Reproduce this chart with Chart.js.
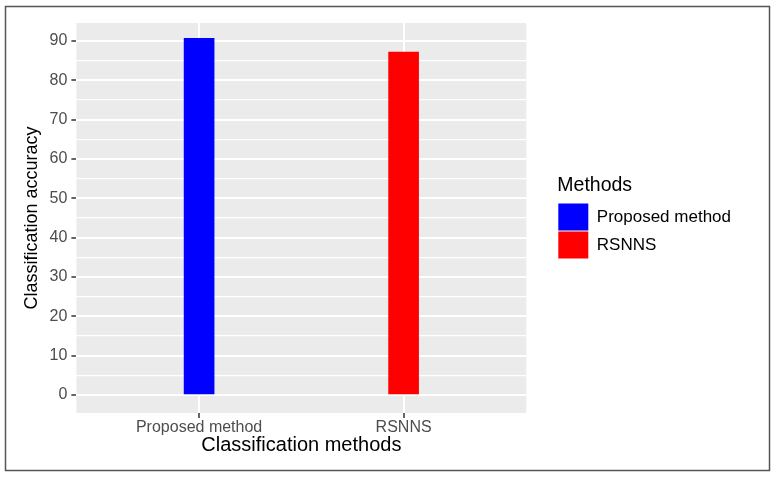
<!DOCTYPE html>
<html>
<head>
<meta charset="utf-8">
<script src="https://cdn.jsdelivr.net/npm/chart.js@4"></script>
<style>
  body { margin: 0; background: #fff; }
  #wrap { width: 776px; height: 477px; }
</style>
</head>
<body>
<div id="wrap"><canvas id="accChart" width="776" height="477"></canvas></div>
<script>
var categories = ['Proposed method', 'RSNNS'];
var accuracy = [90.7, 87.2];
var barColors = ['#0000FF', '#FF0000'];
var yTicks = [0, 5, 10, 15, 20, 25, 30, 35, 40, 45, 50, 55, 60, 65, 70, 75, 80, 85, 90];

var ctx1 = document.getElementById('accChart').getContext('2d');

// grey panel like ggplot, plus the outer frame
var panelBg = {
    id: 'panelBg',
    beforeDraw: function(chart) {
        var a = chart.chartArea;
        var c = chart.ctx;
        c.save();
        c.fillStyle = '#EBEBEB';
        c.fillRect(a.left, a.top, a.right - a.left, a.bottom - a.top);
        c.restore();
    },
    afterDraw: function(chart) {
        var c = chart.ctx;
        c.save();
        c.strokeStyle = '#555555';
        c.lineWidth = 1.5;
        c.strokeRect(5.5, 6.5, 764, 464);
        c.restore();
    }
};

var datasets = categories.map(function(name, i) {
    return {
        label: name,
        data: [{ x: i + 1, y: accuracy[i] }],
        backgroundColor: barColors[i],
        barThickness: 30,
        grouped: false
    };
});

var chart = new Chart(ctx1, {
    type: 'bar',
    data: { datasets: datasets },
    options: {
        responsive: false,
        animation: false,
        layout: { padding: { left: 21, top: 23, right: 35, bottom: 25 } },
        scales: {
            x: {
                type: 'linear',
                min: 0.4,
                max: 2.6,
                offset: false,
                afterBuildTicks: function(scale) {
                    scale.ticks = categories.map(function(c, i) { return { value: i + 1 }; });
                },
                ticks: {
                    color: '#4D4D4D',
                    font: { family: 'Liberation Sans', size: 16, lineHeight: 1 },
                    padding: 2,
                    maxRotation: 0,
                    autoSkip: false,
                    callback: function(v) { return categories[v - 1]; }
                },
                grid: { offset: false, color: '#FFFFFF', lineWidth: 2, tickColor: '#333333', tickLength: 5, tickWidth: 1.5 },
                border: { display: false },
                title: {
                    display: true,
                    text: 'Classification methods',
                    color: '#000',
                    font: { family: 'Liberation Sans', size: 20, lineHeight: 0.7 },
                    padding: { top: 0, bottom: 0 }
                }
            },
            y: {
                min: -4.6,
                max: 94.6,
                afterBuildTicks: function(scale) {
                    scale.ticks = yTicks.map(function(v) { return { value: v }; });
                },
                ticks: {
                    color: '#4D4D4D',
                    font: { family: 'Liberation Sans', size: 16 },
                    padding: 4,
                    autoSkip: false,
                    callback: function(v) { return v % 10 === 0 ? v : ''; }
                },
                grid: {
                    color: '#FFFFFF',
                    lineWidth: function(c) { return c.tick && c.tick.value % 10 === 0 ? 2 : 1.2; },
                    tickColor: function(c) { return c.tick && c.tick.value % 10 === 0 ? '#333333' : 'rgba(0,0,0,0)'; },
                    tickLength: 5,
                    tickWidth: 1.5
                },
                border: { display: false },
                title: {
                    display: true,
                    text: 'Classification accuracy',
                    color: '#000',
                    font: { family: 'Liberation Sans', size: 18 },
                    padding: { top: 0, bottom: 3 }
                }
            },
            // empty axis that only keeps space between panel and legend
            gap: {
                position: 'right',
                display: true,
                ticks: { display: false },
                grid: { display: false, drawTicks: false },
                border: { display: false },
                afterFit: function(scale) { scale.width = 31; }
            }
        },
        plugins: {
            legend: {
                position: 'right',
                align: 'start',
                maxWidth: 200,
                title: {
                    display: true,
                    text: 'Methods',
                    position: 'start',
                    color: '#000',
                    font: { family: 'Liberation Sans', size: 19.5 },
                    padding: { top: 153, bottom: 3 }
                },
                labels: {
                    boxWidth: 30,
                    boxHeight: 27,
                    padding: 1,
                    color: '#000',
                    font: { family: 'Liberation Sans', size: 17 }
                }
            },
            tooltip: { enabled: false }
        }
    },
    plugins: [panelBg]
});
</script>
</body>
</html>
